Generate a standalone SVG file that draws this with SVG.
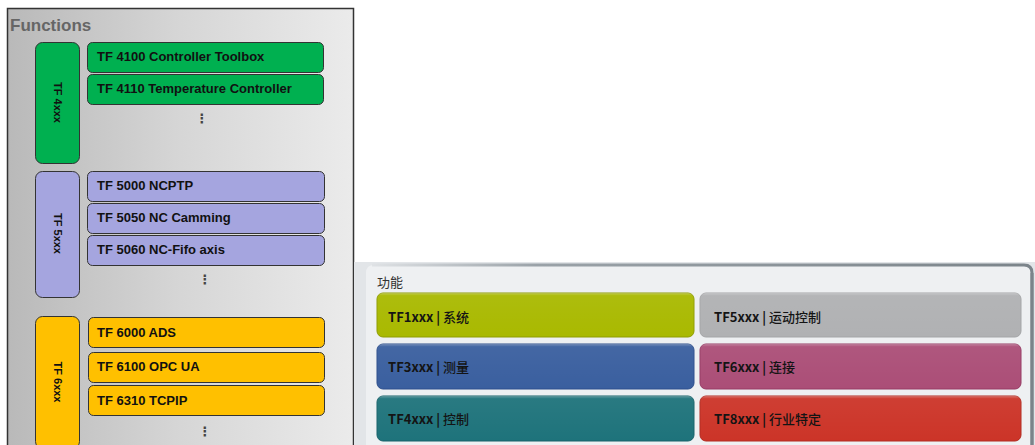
<svg xmlns="http://www.w3.org/2000/svg" width="1035" height="445" viewBox="0 0 1035 445">
<defs>
<linearGradient id="gL" x1="0" y1="0" x2="1" y2="0">
<stop offset="0" stop-color="#b9b9b9"/>
<stop offset="0.5" stop-color="#d6d6d6"/>
<stop offset="1" stop-color="#ebebeb"/>
</linearGradient>
<linearGradient id="gTop" x1="0" y1="0" x2="1" y2="0">
<stop offset="0" stop-color="#dfe2e5"/>
<stop offset="0.25" stop-color="#9aa2a8"/>
<stop offset="1" stop-color="#7b848a"/>
</linearGradient>
<linearGradient id="gHi" x1="0" y1="0" x2="0" y2="1">
<stop offset="0" stop-color="#ffffff" stop-opacity="0.3"/>
<stop offset="0.06" stop-color="#ffffff" stop-opacity="0.05"/>
<stop offset="1" stop-color="#ffffff" stop-opacity="0"/>
</linearGradient>
<style>
.cat{stroke:#333;stroke-width:1}
.item{stroke:#333;stroke-width:1}
.g{fill:#00b050}
.p{fill:#a5a5df}
.y{fill:#ffc000}
.it{font-family:"Liberation Sans",Arial,sans-serif;font-size:13px;font-weight:bold;fill:#111}
.ct{font-family:"Liberation Sans",Arial,sans-serif;font-size:11px;font-weight:bold;fill:#111}
.dots{font-family:"DejaVu Sans",sans-serif;font-size:13px;font-weight:bold;fill:#444;text-anchor:middle}
.fn{font-family:"Noto Sans CJK SC","Noto Sans",sans-serif;font-size:13px;font-weight:500;fill:#141414}
.fn .b{font-weight:bold}
.hd{font-family:"Noto Sans CJK SC","Noto Sans",sans-serif;font-size:13px;fill:#333}
</style>
</defs>
<rect width="1035" height="445" fill="#ffffff"/>

<g id="functions-panel">
<rect x="7.5" y="8.5" width="346" height="450" fill="url(#gL)" stroke="#333" stroke-width="1.5"/>
<text x="10" y="31" font-family="Liberation Sans,Arial,sans-serif" font-size="17" font-weight="bold" fill="#666">Functions</text>
</g>

<g id="tf4xxx">
<rect class="cat g" x="35.5" y="42.5" width="44" height="121" rx="7"/>
<text class="ct" transform="translate(53.5,102.5) rotate(90)" text-anchor="middle">TF 4xxx</text>
</g>
<g id="tf4100"><rect class="item g" x="87.5" y="42.5" width="236" height="30" rx="5"/><text class="it" x="97" y="61">TF 4100 Controller Toolbox</text></g>
<g id="tf4110"><rect class="item g" x="87.5" y="74.5" width="236" height="30" rx="5"/><text class="it" x="97" y="93">TF 4110 Temperature Controller</text></g>
<text class="dots" x="202" y="123">⋮</text>

<g id="tf5xxx">
<rect class="cat p" x="35.5" y="171.5" width="44" height="126" rx="7"/>
<text class="ct" transform="translate(53.5,233.5) rotate(90)" text-anchor="middle">TF 5xxx</text>
</g>
<g id="tf5000"><rect class="item p" x="87.5" y="171.5" width="237" height="30" rx="5"/><text class="it" x="97" y="190">TF 5000 NCPTP</text></g>
<g id="tf5050"><rect class="item p" x="87.5" y="203.5" width="237" height="30" rx="5"/><text class="it" x="97" y="222">TF 5050 NC Camming</text></g>
<g id="tf5060"><rect class="item p" x="87.5" y="235.5" width="237" height="30" rx="5"/><text class="it" x="97" y="254">TF 5060 NC-Fifo axis</text></g>
<text class="dots" x="205" y="284">⋮</text>

<g id="tf6xxx">
<rect class="cat y" x="35.5" y="316.5" width="44" height="132" rx="7"/>
<text class="ct" transform="translate(53.5,382) rotate(90)" text-anchor="middle">TF 6xxx</text>
</g>
<g id="tf6000"><rect class="item y" x="88.5" y="317.5" width="236" height="30" rx="5"/><text class="it" x="97" y="337">TF 6000 ADS</text></g>
<g id="tf6100"><rect class="item y" x="88.5" y="352.5" width="236" height="30" rx="5"/><text class="it" x="97" y="371">TF 6100 OPC UA</text></g>
<g id="tf6310"><rect class="item y" x="88.5" y="385.5" width="236" height="30" rx="5"/><text class="it" x="97" y="405">TF 6310 TCPIP</text></g>
<text class="dots" x="205" y="436">⋮</text>

<g id="cn-panel">
<rect x="354" y="262" width="681" height="183" fill="#e2e5e8"/>
<path d="M366,445 L366,273 Q366,265 374,265 L1024,265 Q1032,265 1032,273 L1032,445 Z" fill="#eef0f2"/>
<path d="M372,265 L1024,265 Q1032,265 1032,273 L1032,445" fill="none" stroke="url(#gTop)" stroke-width="3"/>
<path d="M1032,273 L1032,445" fill="none" stroke="#7b848a" stroke-width="3"/>
<text class="hd" x="377" y="287">功能</text>
</g>

<g id="tf1xxx"><rect x="377" y="293" width="317" height="44" rx="6" fill="#a9b900" stroke="#8f9c00" stroke-width="1"/><rect x="377" y="293" width="317" height="44" rx="6" fill="url(#gHi)"/><text class="fn" x="388" y="322"><tspan class="b">TF1xxx |</tspan> 系统</text></g>
<g id="tf3xxx"><rect x="377" y="344" width="317" height="45" rx="6" fill="#3a5f9f" stroke="#2d4f8c" stroke-width="1"/><rect x="377" y="344" width="317" height="45" rx="6" fill="url(#gHi)"/><text class="fn" x="388" y="372"><tspan class="b">TF3xxx |</tspan> 测量</text></g>
<g id="tf4xxx-cn"><rect x="377" y="396" width="317" height="45" rx="6" fill="#1e737b" stroke="#17626a" stroke-width="1"/><rect x="377" y="396" width="317" height="45" rx="6" fill="url(#gHi)"/><text class="fn" x="388" y="424"><tspan class="b">TF4xxx |</tspan> 控制</text></g>
<g id="tf5xxx-cn"><rect x="700" y="293" width="321" height="44" rx="6" fill="#b0b1b3" stroke="#a4a5a7" stroke-width="1"/><rect x="700" y="293" width="321" height="44" rx="6" fill="url(#gHi)"/><text class="fn" x="714" y="322"><tspan class="b">TF5xxx |</tspan> 运动控制</text></g>
<g id="tf6xxx-cn"><rect x="700" y="344" width="321" height="45" rx="6" fill="#ab4e77" stroke="#963a64" stroke-width="1"/><rect x="700" y="344" width="321" height="45" rx="6" fill="url(#gHi)"/><text class="fn" x="714" y="372"><tspan class="b">TF6xxx |</tspan> 连接</text></g>
<g id="tf8xxx-cn"><rect x="700" y="396" width="321" height="45" rx="6" fill="#cc3428" stroke="#b22a20" stroke-width="1"/><rect x="700" y="396" width="321" height="45" rx="6" fill="url(#gHi)"/><text class="fn" x="714" y="424"><tspan class="b">TF8xxx |</tspan> 行业特定</text></g>

<g id="connectors"/>
</svg>
